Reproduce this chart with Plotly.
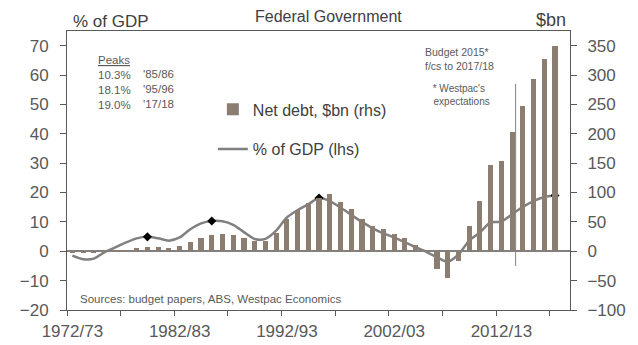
import plotly.graph_objects as go

# ---------------- data ----------------
years = [f"{y}/{str(y + 1)[-2:]}" for y in range(1972, 2018)]

net_debt_bn = [-1.5, -1.5, -1.5, 0.5, 1.0, 3.0, 5.0, 6.5, 7.0, 6.0,
               9.5, 16.5, 23.0, 27.0, 29.5, 28.0, 22.5, 17.0, 17.0, 31.0,
               55.0, 70.0, 83.0, 90.0, 97.0, 83.5, 72.5, 54.5, 42.5, 38.5,
               29.5, 22.5, 11.0, 1.0, -30.0, -45.5, -17.0, 42.5, 86.0, 147.5,
               153.0, 202.5, 248.0, 293.0, 328.0, 350.0]

pct_gdp = [-1.5, -2.7, -2.5, -0.3, 1.3, 3.0, 4.4, 4.9, 4.4, 3.6,
           4.7, 7.5, 9.5, 10.3, 10.2, 9.0, 6.5, 4.2, 4.2, 7.0,
           11.5, 14.0, 16.0, 18.1, 17.1, 14.9, 12.4, 10.0, 7.8, 6.1,
           4.7, 3.0, 1.4, -0.2, -2.0, -3.5, -1.1, 3.6, 6.4, 9.8,
           10.1, 12.6, 15.1, 17.1, 18.5, 19.0]

peak_marker_years = ["1979/80", "1985/86", "1995/96", "2017/18"]
peaks_table_values = ["10.3%", "18.1%", "19.0%"]
peaks_table_years = ["'85/86", "'95/96", "'17/18"]

label_years = ["1972/73", "1982/83", "1992/93", "2002/03", "2012/13"]
left_ticks = list(range(-20, 71, 10))
right_ticks = list(range(-100, 351, 50))

# ---------------- styling ----------------
FONT = "Liberation Sans, Arial, sans-serif"
TXT = "#404040"
TICK_TXT = "#595959"
BAR_C = "#8b7d70"
LINE_C = "#808080"
AX_C = "#595959"

idx = list(range(len(years)))
peak_idx = [years.index(y) for y in peak_marker_years]

fig = go.Figure()
fig.add_trace(go.Bar(
    x=idx, y=net_debt_bn, yaxis="y2", width=0.48,
    marker=dict(color=BAR_C, line=dict(width=0)),
    name="Net debt, $bn (rhs)", legendgroup="a",
))
fig.add_trace(go.Scatter(
    x=idx, y=pct_gdp, yaxis="y", mode="lines",
    line=dict(color=LINE_C, width=2.5, shape="spline", smoothing=0.8),
    name="% of GDP (lhs)", legendgroup="b",
))
fig.add_trace(go.Scatter(
    x=peak_idx, y=[pct_gdp[i] for i in peak_idx], yaxis="y", mode="markers",
    marker=dict(symbol="diamond", color="black", size=7),
    showlegend=False,
))

# forecast divider (between 2013/14 and 2014/15)
fig.add_shape(type="line", xref="x", yref="y2",
              x0=41.33, x1=41.33, y0=-25, y1=285,
              line=dict(color=LINE_C, width=1))

ann = []
ann.append(dict(text="% of GDP", x=0.008, y=1.035, xanchor="left", yanchor="middle",
                font=dict(size=17, color=TXT)))
ann.append(dict(text="Federal Government", x=0.52, y=1.053, xanchor="center", yanchor="middle",
                font=dict(size=16, color=TXT)))
ann.append(dict(text="$bn", x=0.996, y=1.039, xanchor="right", yanchor="middle",
                font=dict(size=18, color=TXT)))
ann.append(dict(text="<u>Peaks</u><br>" + "<br>".join(peaks_table_values),
                x=0.0584, y=0.817, xanchor="left", yanchor="middle", align="left",
                font=dict(size=11.5, color=TICK_TXT)))
ann.append(dict(text="<br>".join(peaks_table_years),
                x=0.148, y=0.791, xanchor="left", yanchor="middle", align="left",
                font=dict(size=11.5, color=TICK_TXT)))
ann.append(dict(text="Budget 2015*<br>f/cs to 2017/18",
                x=0.708, y=0.90, xanchor="left", yanchor="middle", align="left",
                font=dict(size=10.5, color=TICK_TXT)))
ann.append(dict(text="* Westpac's<br>  expectations",
                x=0.78, y=0.771, xanchor="center", yanchor="middle", align="center",
                font=dict(size=10, color=TICK_TXT)))
ann.append(dict(text="Sources: budget papers, ABS, Westpac Economics",
                x=0.0214, y=0.04, xanchor="left", yanchor="middle", align="left",
                font=dict(size=11.5, color=TICK_TXT)))
for a in ann:
    a.update(xref="paper", yref="paper", showarrow=False)

fig.update_layout(
    width=638, height=345,
    margin=dict(l=48, r=76, t=23, b=40),
    paper_bgcolor="white", plot_bgcolor="white",
    font=dict(family=FONT, color=TXT),
    annotations=ann,
    showlegend=True,
    legend=dict(x=0.29, y=0.78, xanchor="left", yanchor="top",
                bgcolor="rgba(0,0,0,0)", font=dict(size=16, color=TXT),
                tracegroupgap=16, traceorder="grouped"),
    bargap=0,
    xaxis=dict(
        range=[-0.5, 46.4],
        tickmode="array",
        tickvals=[years.index(y) for y in label_years],
        ticktext=label_years,
        ticks="",
        ticklabelstandoff=6,
        tickfont=dict(size=17, color=TICK_TXT),
        showline=True, linecolor=AX_C, linewidth=1, mirror=True,
        showgrid=False, zeroline=False,
        minor=dict(ticks="outside", tick0=-0.5, dtick=5, ticklen=5,
                   tickcolor=AX_C, tickwidth=1, showgrid=False),
    ),
    yaxis=dict(
        range=[-20, 75],
        tickmode="array", tickvals=left_ticks,
        ticks="outside", ticklen=6, tickcolor=AX_C,
        ticklabelstandoff=8,
        tickfont=dict(size=17, color=TICK_TXT),
        showline=True, linecolor=AX_C, linewidth=1,
        showgrid=False,
        zeroline=True, zerolinecolor=LINE_C, zerolinewidth=1.5,
    ),
    yaxis2=dict(
        range=[-100, 375], overlaying="y", side="right",
        tickmode="array", tickvals=right_ticks,
        ticks="outside", ticklen=6, tickcolor=AX_C,
        ticklabelstandoff=7,
        tickfont=dict(size=17, color=TICK_TXT),
        showline=True, linecolor=AX_C, linewidth=1,
        showgrid=False, zeroline=False,
    ),
)

fig.write_html("out.html")
